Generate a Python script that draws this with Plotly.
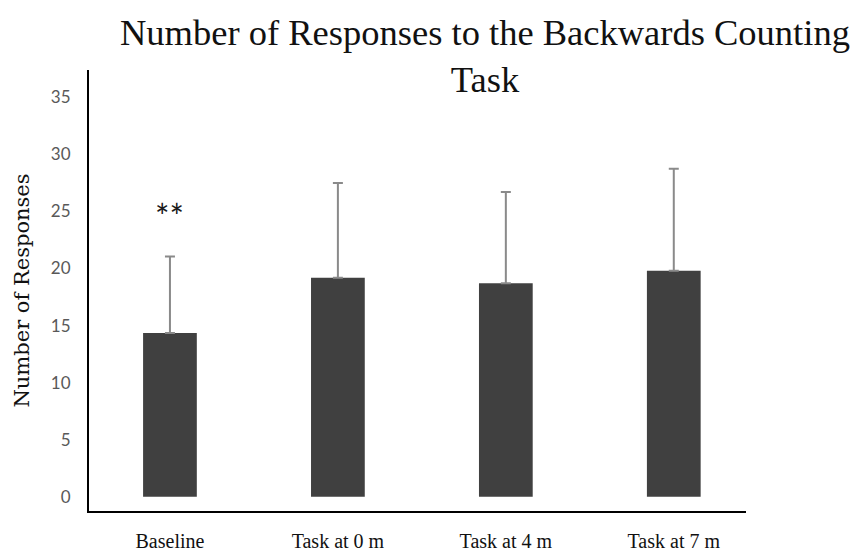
import plotly.graph_objects as go

# Mean number of responses per condition, with upward error (SD)
conditions = ["Baseline", "Task at 0 m", "Task at 4 m", "Task at 7 m"]
mean_responses = [14.35, 19.2, 18.7, 19.8]
sd_responses = [6.7, 8.3, 8.0, 8.95]
y_ticks = [0, 5, 10, 15, 20, 25, 30, 35]
significance_label = "**"
title_text = "Number of Responses to the Backwards Counting<br>Task"

fig = go.Figure()
fig.add_trace(go.Bar(
    x=conditions,
    y=mean_responses,
    width=0.32,
    marker=dict(color="#404040", line=dict(width=0)),
    error_y=dict(type="data", array=sd_responses, symmetric=False,
                 arrayminus=[0] * len(sd_responses),
                 color="#8a8a8a", thickness=2, width=5),
    showlegend=False,
))

# Significance marker above the baseline bar
fig.add_annotation(
    x=conditions[0], y=mean_responses[0] + sd_responses[0] + 3.6,
    text=significance_label, showarrow=False, yanchor="middle",
    font=dict(family="Lato", size=34, color="#1a1a1a"),
)

# Two-line chart title
fig.add_annotation(
    x=0.6027, y=1.135, xref="paper", yref="paper",
    xanchor="center", yanchor="top",
    text=title_text, showarrow=False, align="center",
    font=dict(family="Liberation Serif", size=36.5, color="#111111"),
)

fig.update_layout(
    width=863, height=553,
    margin=dict(l=89, r=117, t=70, b=42),
    paper_bgcolor="white", plot_bgcolor="white",
    xaxis=dict(
        range=[-0.482, 3.43],
        showline=True, linecolor="black", linewidth=2,
        ticks="", showgrid=False, zeroline=False, automargin=False,
        tickfont=dict(family="Liberation Serif", size=20, color="#111111"),
        ticklabelstandoff=11,
    ),
    yaxis=dict(
        range=[-1.25, 37.4],
        tickvals=y_ticks,
        showline=True, linecolor="black", linewidth=2,
        ticks="", showgrid=False, zeroline=False, automargin=False,
        tickfont=dict(family="Lato", size=17, color="#595959"),
        ticklabelstandoff=13,
        title=dict(text="Number of Responses", standoff=16,
                   font=dict(family="DejaVu Serif", size=21, color="#111111")),
    ),
)

fig.write_html("out.html")
